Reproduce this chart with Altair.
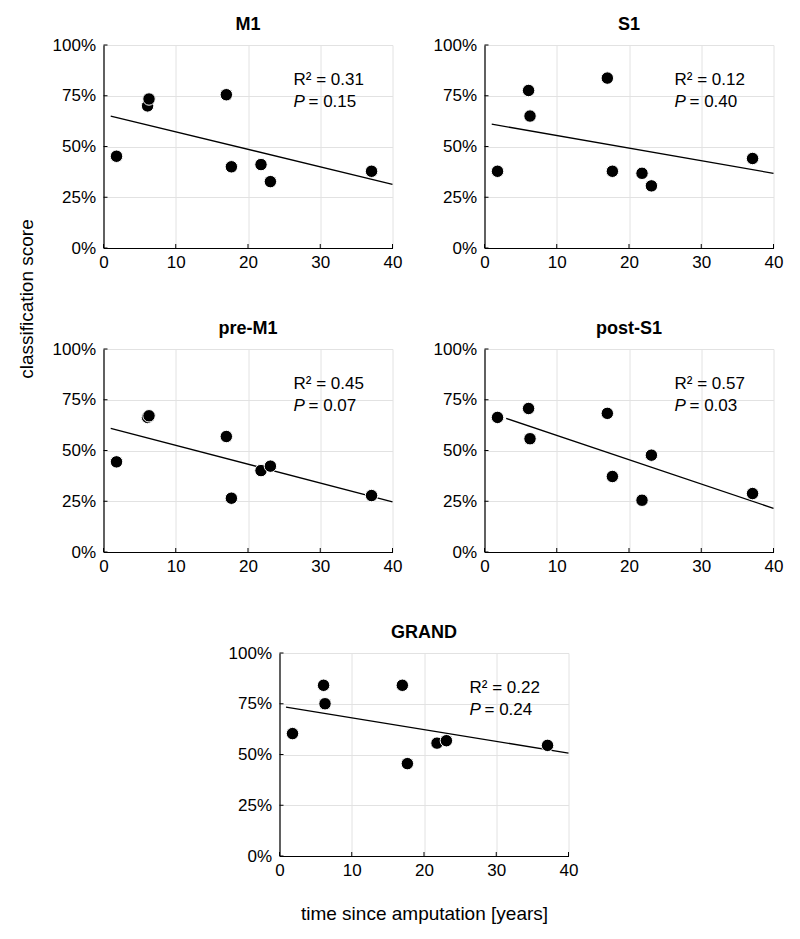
import altair as alt
import pandas as pd

# ---- data ----
years = [1.8, 6.1, 6.3, 17.0, 17.7, 21.8, 23.1, 37.1]
panel_names = ["M1", "S1", "pre-M1", "post-S1", "GRAND"]
score_m1 = [45.2, 70.0, 73.4, 75.5, 40.0, 41.1, 32.7, 37.8]
score_s1 = [37.8, 77.6, 65.0, 83.7, 37.8, 36.8, 30.6, 44.1]
score_pre_m1 = [44.4, 66.3, 67.1, 56.9, 26.5, 40.1, 42.3, 27.8]
score_post_s1 = [66.3, 70.7, 55.8, 68.3, 37.2, 25.5, 47.7, 28.8]
score_grand = [60.3, 84.1, 75.0, 84.1, 45.5, 55.6, 56.8, 54.5]
fit_x_m1, fit_y_m1 = [1.0, 40.0], [65.0, 31.4]
fit_x_s1, fit_y_s1 = [1.0, 40.0], [61.0, 36.8]
fit_x_pre_m1, fit_y_pre_m1 = [1.0, 40.0], [60.9, 24.7]
fit_x_post_s1, fit_y_post_s1 = [3.0, 40.0], [65.8, 21.5]
fit_x_grand, fit_y_grand = [0.9, 40.0], [73.3, 50.7]
r2_values = ["0.31", "0.12", "0.45", "0.57", "0.22"]
p_values = ["0.15", "0.40", "0.07", "0.03", "0.24"]
x_ticks = [0, 10, 20, 30, 40]
y_ticks = [0, 25, 50, 75, 100]
x_title = "time since amputation [years]"
y_title = "classification score"

FONT = "Liberation Sans"
W, H = 289, 203
LBL = 17


def panel(name, scores, fx, fy, r2, p, xtitle=""):
    xs = alt.Scale(domain=[0, 40], nice=False, zero=False)
    ys = alt.Scale(domain=[0, 100], nice=False)
    xax = dict(values=x_ticks, grid=True, labelFlush=False, ticks=False, tickSize=0,
               labelPadding=6, domainColor="black", domainWidth=1.2,
               gridColor="#e2e2e2", labelFontSize=LBL, labelColor="black", labelFont=FONT)
    if xtitle:
        xax.update(title=xtitle, titleFontSize=19, titleFont=FONT, titleFontWeight="normal",
                   titleColor="black", titlePadding=26)
    else:
        xax.update(title="")
    yax = dict(values=y_ticks, grid=True, ticks=False, tickSize=0, labelPadding=8,
               labelExpr="datum.value + '%'", domainColor="black", domainWidth=1.2,
               gridColor="#e2e2e2", labelFontSize=LBL, labelColor="black", labelFont=FONT,
               title="")
    X = alt.X("years:Q", scale=xs, axis=alt.Axis(**xax))
    Y = alt.Y("score:Q", scale=ys, axis=alt.Axis(**yax))

    df = pd.DataFrame({"years": years, "score": scores})
    dfit = pd.DataFrame({"years": fx, "score": fy})
    dxt = pd.DataFrame({"years": x_ticks})
    dyt = pd.DataFrame({"score": y_ticks})

    base_fit = alt.Chart(dfit).mark_line(color="black", strokeWidth=1.3).encode(x=X, y=Y)
    pts = alt.Chart(df).mark_circle(size=155, color="black", opacity=1, stroke="white",
                                    strokeWidth=1).encode(x=X, y=Y)
    xt = alt.Chart(dxt).mark_rule(color="black", strokeWidth=1).encode(
        x=alt.X("years:Q", scale=xs), y=alt.value(H), y2=alt.value(H - 4))
    yt = alt.Chart(dyt).mark_rule(color="black", strokeWidth=1).encode(
        y=alt.Y("score:Q", scale=ys), x=alt.value(0), x2=alt.value(4))
    ann = pd.DataFrame({"r": [f"R\u00b2 = {r2}"], "p": ["P"], "v": [f"= {p}"]})
    t1 = alt.Chart(ann).mark_text(align="left", baseline="alphabetic", fontSize=LBL,
                                  font=FONT, color="black").encode(
        x=alt.value(190), y=alt.value(40), text="r:N")
    t2 = alt.Chart(ann).mark_text(align="left", baseline="alphabetic", fontSize=LBL,
                                  font=FONT, fontStyle="italic", color="black").encode(
        x=alt.value(190), y=alt.value(62), text="p:N")
    t3 = alt.Chart(ann).mark_text(align="left", baseline="alphabetic", fontSize=LBL,
                                  font=FONT, color="black").encode(
        x=alt.value(205), y=alt.value(62), text="v:N")
    return alt.layer(base_fit, pts, xt, yt, t1, t2, t3).properties(
        width=W, height=H,
        title=alt.TitleParams(name, fontSize=18, font=FONT, fontWeight="bold",
                              color="black", anchor="middle", offset=-12,
                              baseline="alphabetic"))


p_m1 = panel(panel_names[0], score_m1, fit_x_m1, fit_y_m1, r2_values[0], p_values[0])
p_s1 = panel(panel_names[1], score_s1, fit_x_s1, fit_y_s1, r2_values[1], p_values[1])
p_pre = panel(panel_names[2], score_pre_m1, fit_x_pre_m1, fit_y_pre_m1, r2_values[2], p_values[2])
p_post = panel(panel_names[3], score_post_s1, fit_x_post_s1, fit_y_post_s1, r2_values[3], p_values[3])
p_grand = panel(panel_names[4], score_grand, fit_x_grand, fit_y_grand, r2_values[4], p_values[4],
                xtitle=x_title)

one = pd.DataFrame({"k": [0]})
spacer = alt.Chart(one).mark_rule(opacity=0).encode(
    x=alt.value(0), x2=alt.value(124), y=alt.value(0)).properties(width=124, height=10)

row1 = alt.hconcat(p_m1, p_s1, spacing=30)
row2 = alt.hconcat(p_pre, p_post, spacing=30)
row3 = alt.hconcat(spacer, p_grand, spacing=0)
body = alt.vconcat(row1, row2, row3, spacing=50)

ylab = pd.DataFrame({"t": [y_title]})
ytitle_rule = alt.Chart(one).mark_rule(opacity=0).encode(
    x=alt.value(0), x2=alt.value(24), y=alt.value(0), y2=alt.value(500))
ytitle_text = alt.Chart(ylab).mark_text(angle=270, align="center", baseline="middle",
                                        fontSize=19, font=FONT, color="black").encode(
    x=alt.value(16), y=alt.value(254), text="t:N")
ytitle = alt.layer(ytitle_rule, ytitle_text).properties(width=24, height=500)

chart = alt.hconcat(ytitle, body, spacing=14.5).properties(
    padding={"left": 3, "top": 8, "right": 5, "bottom": 5},
    background="white",
).configure_view(stroke=None)

chart.save("out.html", embed_options={"renderer": "svg", "actions": False})
